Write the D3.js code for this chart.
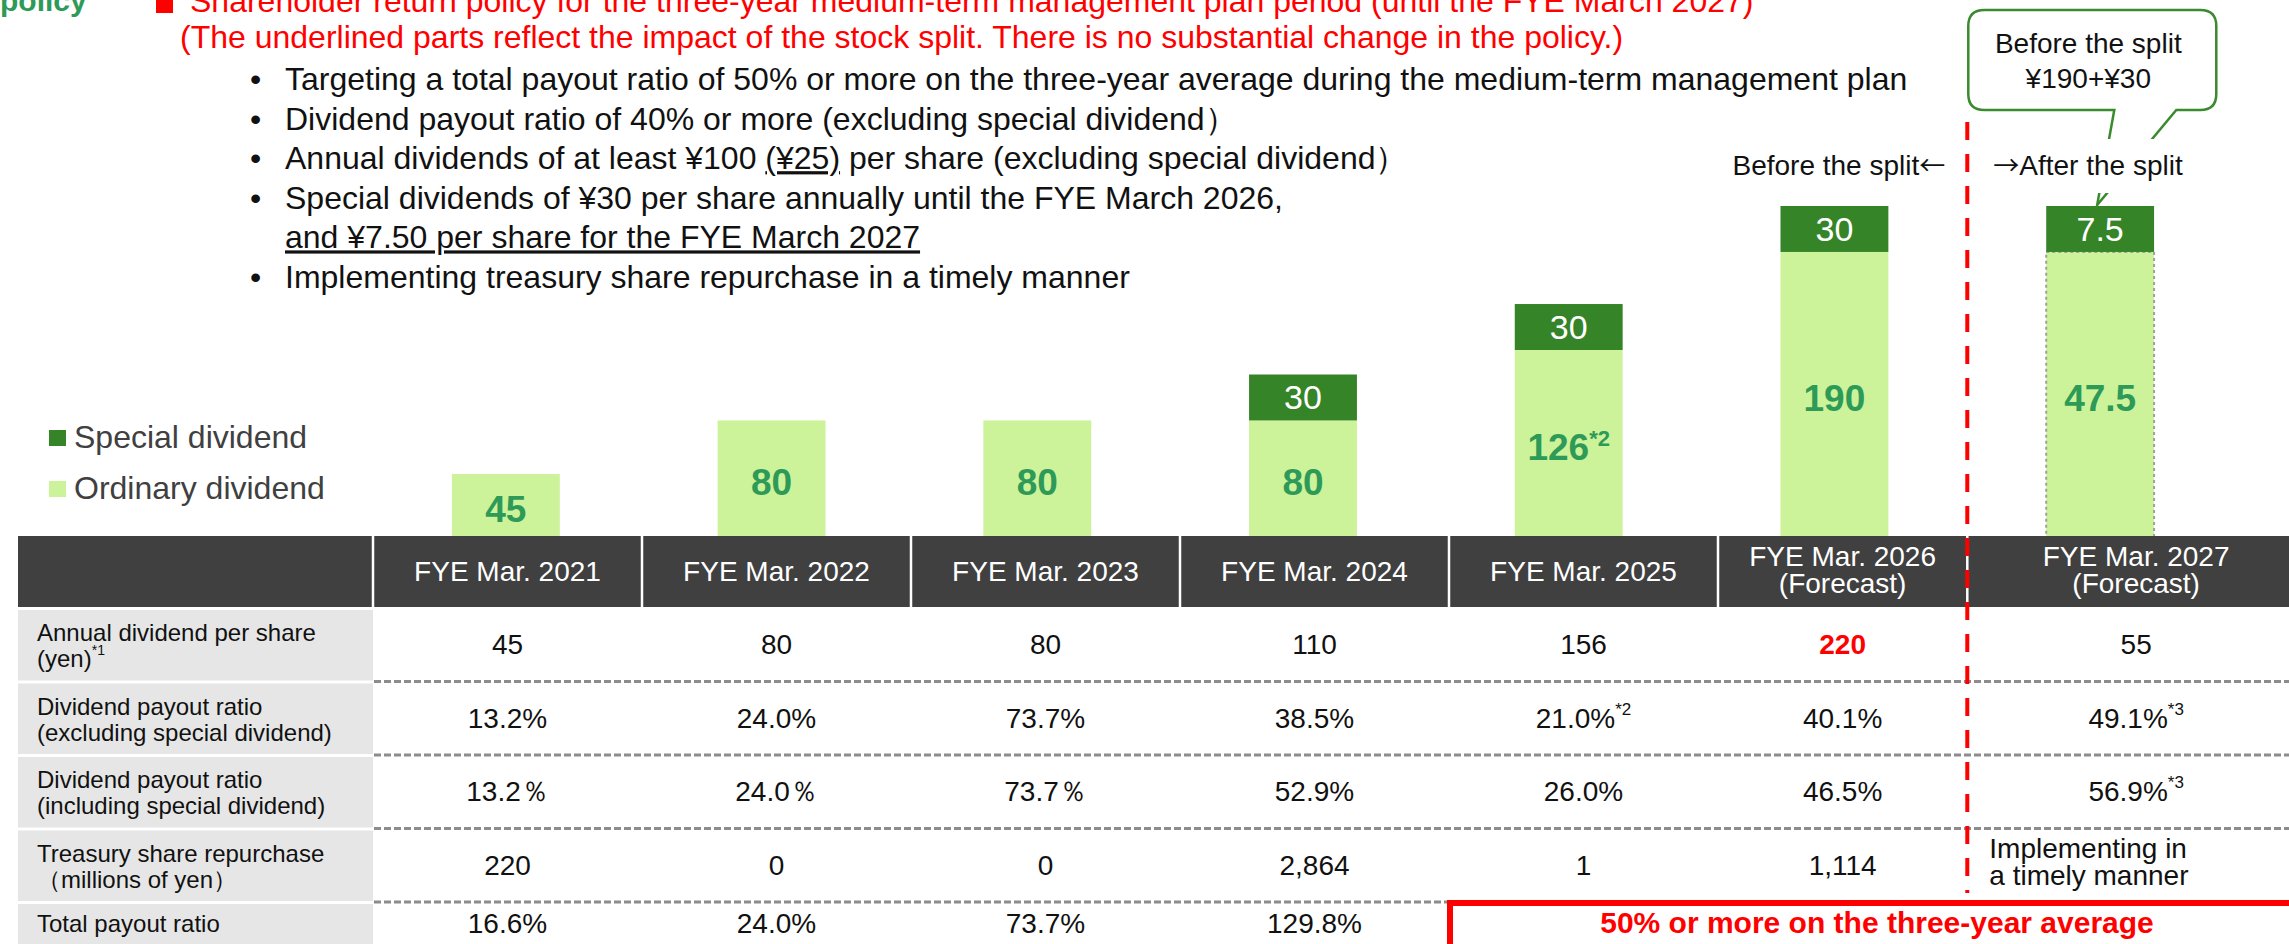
<!DOCTYPE html>
<html>
<head>
<meta charset="utf-8">
<script src="https://cdn.jsdelivr.net/npm/d3@7"></script>
<style>
  html, body { margin: 0; padding: 0; background: #fff; overflow: hidden; }
  svg { display: block; font-family: "Liberation Sans", Arial, sans-serif; }
</style>
</head>
<body>
<script>
// ---- data ----
var years = ["2021", "2022", "2023", "2024", "2025", "2026", "2027"];
var headerLabels = [
  ["FYE Mar. 2021"], ["FYE Mar. 2022"], ["FYE Mar. 2023"], ["FYE Mar. 2024"],
  ["FYE Mar. 2025"], ["FYE Mar. 2026", "(Forecast)"], ["FYE Mar. 2027", "(Forecast)"]
];
var ordinary = [45, 80, 80, 80, 126, 190, 47.5];
var special = [0, 0, 0, 30, 30, 30, 7.5];
var ordinaryNotes = ["", "", "", "", "*2", "", ""];
// FYE 2027 is shown after the 1:4 stock split, drawn on the pre-split scale
var splitFactor = [1, 1, 1, 1, 1, 1, 4];

var annualDividend = [45, 80, 80, 110, 156, 220, 55];
var payoutExcl = [13.2, 24.0, 73.7, 38.5, 21.0, 40.1, 49.1];
var payoutExclNotes = ["", "", "", "", "*2", "", "*3"];
var payoutIncl = [13.2, 24.0, 73.7, 52.9, 26.0, 46.5, 56.9];
var payoutInclNotes = ["", "", "", "", "", "", "*3"];
var payoutInclSign = ["％", "％", "％", "%", "%", "%", "%"];
var repurchase = [220, 0, 0, 2864, 1, 1114];
var repurchaseLast = ["Implementing in", "a timely manner"];
var totalPayout = [16.6, 24.0, 73.7, 129.8];
var totalPayoutTarget = "50% or more on the three-year average";

var rowLabels = [
  ["Annual dividend per share", "(yen)"],
  ["Dividend payout ratio", "(excluding special dividend)"],
  ["Dividend payout ratio", "(including special dividend)"],
  ["Treasury share repurchase", "（millions of yen）"],
  ["Total payout ratio"]
];
var legendItems = ["Special dividend", "Ordinary dividend"];

var policyTitle = "Shareholder return policy for the three-year medium-term management plan period (until the FYE March 2027)";
var policyNote = "(The underlined parts reflect the impact of the stock split. There is no substantial change in the policy.)";
// each bullet line: list of [text, underlined]
var policyBullets = [
  { bullet: true, parts: [["Targeting a total payout ratio of 50% or more on the three-year average during the medium-term management plan", false]] },
  { bullet: true, parts: [["Dividend payout ratio of 40% or more (excluding special dividend）", false]] },
  { bullet: true, parts: [["Annual dividends of at least ¥100 ", false], ["(¥25)", true], [" per share (excluding special dividend）", false]] },
  { bullet: true, parts: [["Special dividends of ¥30 per share annually until the FYE March 2026", false], [",", true]] },
  { bullet: false, parts: [["and ¥7.50 per share for the FYE March 2027", true]] },
  { bullet: true, parts: [["Implementing treasury share repurchase in a timely manner", false]] }
];

// ---- layout ----
var W = 2289, H = 944;
var green = "#358428", lightGreen = "#ccf29a", labelGreen = "#2e9a58", red = "#ff0000";
var headerTop = 536, headerBottom = 607;
var arrowFont = "'Noto Sans CJK JP', 'DejaVu Sans', sans-serif";

var svg = d3.select("body").append("svg").attr("width", W).attr("height", H);

var x = d3.scaleBand().domain(years).range([373, 2233]).paddingInner(0.594).paddingOuter(0.297);
var y = d3.scaleLinear().domain([0, 220]).range([543, 206]);
var splitX = (x("2026") + x("2027")) / 2 + x.bandwidth() / 2;

var col = d3.scaleBand().domain(years).range([373, 373 + 269 * 7]);
function colLeft(i) { return i === 6 ? splitX : col(years[i]); }
function colRight(i) { return i === 5 ? splitX : i === 6 ? W + 16 : col(years[i]) + col.bandwidth(); }
function colMid(i) { return (colLeft(i) + colRight(i)) / 2; }

var rowY = d3.scaleBand().domain(d3.range(rowLabels.length)).range([608, 975.5]);

// ---- bars ----
var barData = years.map(function (yr, i) {
  return { year: yr, i: i, ordinary: ordinary[i] * splitFactor[i], special: special[i] * splitFactor[i] };
});
var series = d3.stack().keys(["ordinary", "special"])(barData);

var bars = svg.append("g");
bars.selectAll("g")
  .data(series)
  .join("g")
  .attr("fill", function (s) { return s.key === "ordinary" ? lightGreen : green; })
  .selectAll("rect")
  .data(function (s) { return s.filter(function (d) { return d[1] > d[0]; }).map(function (d) { d.key = s.key; return d; }); })
  .join("rect")
  .attr("x", function (d) { return x(d.data.year); })
  .attr("y", function (d) { return y(d[1]); })
  .attr("width", x.bandwidth())
  .attr("height", function (d) { return y(d[0]) - y(d[1]); })
  .attr("stroke", function (d) { return d.key === "ordinary" && d.data.i === 6 ? "#a0a0a0" : null; })
  .attr("stroke-width", 2)
  .attr("stroke-dasharray", "3,3");

// ordinary labels
bars.append("g")
  .selectAll("text")
  .data(series[0])
  .join("text")
  .attr("x", function (d) { return x(d.data.year) + x.bandwidth() / 2; })
  .attr("y", function (d) { return (y(d[1]) + Math.min(y(d[0]), headerTop)) / 2 + 17; })
  .attr("text-anchor", "middle")
  .attr("font-size", 37)
  .attr("font-weight", "bold")
  .attr("fill", labelGreen)
  .each(function (d) {
    var t = d3.select(this);
    t.append("tspan").text(ordinary[d.data.i]);
    if (ordinaryNotes[d.data.i]) {
      t.append("tspan").attr("font-size", 22).attr("dy", -14).text(ordinaryNotes[d.data.i]);
    }
  });

// special labels
bars.append("g")
  .selectAll("text")
  .data(series[1].filter(function (d) { return d[1] > d[0]; }))
  .join("text")
  .attr("x", function (d) { return x(d.data.year) + x.bandwidth() / 2; })
  .attr("y", function (d) { return (y(d[1]) + y(d[0])) / 2 + 12; })
  .attr("text-anchor", "middle")
  .attr("font-size", 34)
  .attr("fill", "#fff")
  .text(function (d) { return special[d.data.i]; });

// legend
var legend = svg.append("g").attr("font-size", 32).attr("fill", "#404040");
legendItems.forEach(function (name, i) {
  legend.append("rect").attr("x", 49).attr("y", 430 + i * 51).attr("width", 17).attr("height", 16)
    .attr("fill", i === 0 ? green : lightGreen);
  legend.append("text").attr("x", 74).attr("y", 448 + i * 51).text(name);
});

// ---- table ----
var table = svg.append("g");
table.append("rect").attr("x", 18).attr("y", headerTop).attr("width", W - 18).attr("height", headerBottom - headerTop).attr("fill", "#404040");

years.forEach(function (yr, i) {
  table.append("line")
    .attr("x1", colLeft(i)).attr("x2", colLeft(i))
    .attr("y1", headerTop).attr("y2", headerBottom)
    .attr("stroke", "#fff").attr("stroke-width", 2.5);
  var lines = headerLabels[i];
  var t = table.append("text").attr("text-anchor", "middle").attr("font-size", 28).attr("fill", "#fff");
  lines.forEach(function (ln, k) {
    t.append("tspan").attr("x", colMid(i))
      .attr("y", lines.length === 1 ? 581 : 566 + k * 27)
      .text(ln);
  });
});

rowLabels.forEach(function (lines, r) {
  table.append("rect").attr("x", 18).attr("y", rowY(r) + 2).attr("width", 373 - 18)
    .attr("height", rowY.bandwidth() - 3).attr("fill", "#e6e6e6");
  var t = table.append("text").attr("font-size", 24).attr("fill", "#111");
  lines.forEach(function (ln, k) {
    t.append("tspan").attr("x", 37).attr("y", rowY(r) + (lines.length === 1 ? 30 : 33 + k * 26)).text(ln);
  });
  if (r === 0) {
    t.append("tspan").attr("font-size", 14).attr("dy", -12).text("*1");
  }
  if (r > 0) {
    table.append("line")
      .attr("x1", 374).attr("x2", W)
      .attr("y1", rowY(r)).attr("y2", rowY(r))
      .attr("stroke", "#8c8c8c").attr("stroke-width", 3).attr("stroke-dasharray", "7,3");
  }
});

function cell(r, i, value, note, opts) {
  opts = opts || {};
  var t = table.append("text")
    .attr("x", colMid(i))
    .attr("y", rowY(r) + (r === 4 ? 31 : 46))
    .attr("text-anchor", "middle")
    .attr("font-size", opts.size || 28)
    .attr("font-weight", opts.bold ? "bold" : null)
    .attr("fill", opts.color || "#111");
  t.append("tspan").text(value);
  if (note) t.append("tspan").attr("font-size", 17).attr("dy", -13).text(note);
}

var pct = d3.format(".1f");
annualDividend.forEach(function (v, i) {
  cell(0, i, v, "", i === 5 ? { bold: true, color: red } : null);
});
payoutExcl.forEach(function (v, i) { cell(1, i, pct(v) + "%", payoutExclNotes[i]); });
payoutIncl.forEach(function (v, i) { cell(2, i, pct(v) + payoutInclSign[i], payoutInclNotes[i]); });
repurchase.forEach(function (v, i) { cell(3, i, d3.format(",")(v), ""); });
var impl = table.append("text").attr("font-size", 28).attr("fill", "#111");
repurchaseLast.forEach(function (ln, k) {
  impl.append("tspan").attr("x", splitX + 22).attr("y", rowY(3) + 29 + k * 27).text(ln);
});
totalPayout.forEach(function (v, i) { cell(4, i, pct(v) + "%", ""); });

// target box for the three-year average
table.append("rect")
  .attr("x", colLeft(4) + 1).attr("y", rowY(4) + 1)
  .attr("width", W + 30 - colLeft(4)).attr("height", 120)
  .attr("fill", "none").attr("stroke", red).attr("stroke-width", 6);
table.append("text")
  .attr("x", (colLeft(4) + W + 16) / 2).attr("y", rowY(4) + 31)
  .attr("text-anchor", "middle").attr("font-size", 30).attr("font-weight", "bold")
  .attr("fill", red).text(totalPayoutTarget);

// ---- stock split marker ----
svg.append("line")
  .attr("x1", splitX).attr("x2", splitX)
  .attr("y1", 122).attr("y2", rowY(4) - 9)
  .attr("stroke", red).attr("stroke-width", 4).attr("stroke-dasharray", "18,14");

var tipX = x("2027") + x.bandwidth() / 2 - 3;
var tipY = y(ordinary[6] * splitFactor[6] + special[6] * splitFactor[6]) - 1;
var cl = splitX + 1, ct = 10, cr = splitX + 249, cb = 110, rad = 16;
var callout = d3.path();
callout.moveTo(cl + rad, ct);
callout.lineTo(cr - rad, ct);
callout.quadraticCurveTo(cr, ct, cr, ct + rad);
callout.lineTo(cr, cb - rad);
callout.quadraticCurveTo(cr, cb, cr - rad, cb);
callout.lineTo(cr - 40, cb);
callout.lineTo(tipX, tipY);
callout.lineTo(cl + 146, cb);
callout.lineTo(cl + rad, cb);
callout.quadraticCurveTo(cl, cb, cl, cb - rad);
callout.lineTo(cl, ct + rad);
callout.quadraticCurveTo(cl, ct, cl + rad, ct);
callout.closePath();
svg.append("path").attr("d", callout.toString()).attr("fill", "#fff").attr("stroke", "#3a8a2e").attr("stroke-width", 2.5);

var ctext = svg.append("text").attr("text-anchor", "middle").attr("font-size", 28).attr("fill", "#111");
ctext.append("tspan").attr("x", (cl + cr) / 2 - 4).attr("y", 53).text("Before the split");
ctext.append("tspan").attr("x", (cl + cr) / 2 - 4).attr("y", 88).text("¥" + ordinary[5] + "+¥" + special[5]);

svg.append("rect").attr("x", splitX + 20).attr("y", 139).attr("width", 215).attr("height", 54).attr("fill", "#fff");
var beforeLbl = svg.append("text").attr("x", splitX - 22).attr("y", 175).attr("text-anchor", "end")
  .attr("font-size", 28).attr("fill", "#111");
beforeLbl.append("tspan").text("Before the split");
beforeLbl.append("tspan").attr("font-family", arrowFont).attr("font-size", 26).text("←");
var afterLbl = svg.append("text").attr("x", splitX + 26).attr("y", 175)
  .attr("font-size", 28).attr("fill", "#111");
afterLbl.append("tspan").attr("font-family", arrowFont).attr("font-size", 26).text("→");
afterLbl.append("tspan").text("After the split");

// ---- policy text ----
svg.append("text").attr("x", 0).attr("y", 11).attr("font-size", 30).attr("font-weight", "bold")
  .attr("fill", labelGreen).text("policy");
svg.append("rect").attr("x", 156).attr("y", -5).attr("width", 17).attr("height", 18).attr("fill", red);
svg.append("text").attr("x", 190).attr("y", 12).attr("font-size", 32).attr("fill", red).text(policyTitle);
svg.append("text").attr("x", 180).attr("y", 48).attr("font-size", 32).attr("fill", red).text(policyNote);

var policy = svg.append("g").attr("font-size", 32).attr("fill", "#111");
policyBullets.forEach(function (b, i) {
  var by = 90 + i * 39.6;
  if (b.bullet) policy.append("text").attr("x", 250).attr("y", by).text("•");
  var t = policy.append("text").attr("x", 285).attr("y", by);
  b.parts.forEach(function (p) {
    t.append("tspan").attr("text-decoration", p[1] ? "underline" : null).text(p[0]);
  });
});
</script>
</body>
</html>
